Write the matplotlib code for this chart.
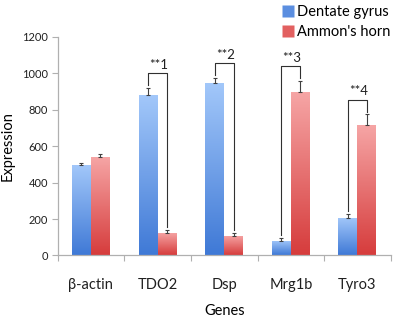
import matplotlib
matplotlib.use("Agg")
import matplotlib.pyplot as plt
import numpy as np
from matplotlib.colors import LinearSegmentedColormap
from matplotlib.lines import Line2D

plt.rcParams['font.family'] = ['Lato', 'DejaVu Sans']

genes = ["β-actin", "TDO2", "Dsp", "Mrg1b", "Tyro3"]
dentate = [495, 880, 945, 80, 205]
dentate_err = [15, 40, 30, 15, 22]
ammon = [540, 125, 105, 900, 715]
ammon_err = [20, 15, 18, 58, 60]
sig_labels = ["", "**1", "**2", "**3", "**4"]
series_names = ["Dentate gyrus", "Ammon's horn"]

fig = plt.figure(figsize=(4, 3.2), dpi=100)
ax = fig.add_axes([0.144, 0.2016, 0.833, 0.6828])

x = np.arange(len(genes))
w = 0.285

blue_cmap = LinearSegmentedColormap.from_list("b", ["#3f79d6", "#a3c8fa"])
red_cmap = LinearSegmentedColormap.from_list("r", ["#d63c3c", "#f6a6a6"])

bars_b = ax.bar(x - w/2, dentate, w, color="none", edgecolor="none")
bars_r = ax.bar(x + w/2, ammon, w, color="none", edgecolor="none")
grad = np.linspace(0, 1, 256).reshape(-1, 1)
for bars, cmap in ((bars_b, blue_cmap), (bars_r, red_cmap)):
    for b in bars:
        x0, y0 = b.get_x(), b.get_y()
        bw, bh = b.get_width(), b.get_height()
        im = ax.imshow(grad, cmap=cmap, origin="lower", aspect="auto",
                       extent=[x0, x0 + bw, y0, y0 + bh], zorder=2)
        im.set_clip_path(b)

ax.errorbar(x - w/2, dentate, yerr=[np.zeros(len(x)), dentate_err], fmt="none",
            ecolor="#404040", elinewidth=0.8, capsize=1.5, capthick=0.8, zorder=3)
ax.errorbar(x + w/2, ammon, yerr=[np.zeros(len(x)), ammon_err], fmt="none",
            ecolor="#404040", elinewidth=0.8, capsize=1.5, capthick=0.8, zorder=3)

for i, lab in enumerate(sig_labels):
    if not lab:
        continue
    tb = dentate[i] + dentate_err[i]
    tr = ammon[i] + ammon_err[i]
    top = max(tb, tr) + 80
    ax.plot([x[i] - w/2, x[i] - w/2, x[i] + w/2, x[i] + w/2],
            [tb + 15, top, top, tr + 15], color="#303030", lw=0.8, zorder=4)
    ax.text(x[i] - w/2 + 0.02, top + 15, lab, fontsize=9.5, ha="left", va="bottom",
            color="#202020")

ax.set_xlim(-0.5, len(genes) - 0.5)
ax.set_ylim(0, 1200)
ax.set_yticks(np.arange(0, 1201, 200))
ax.tick_params(axis="y", labelsize=8, length=4, color="#b0b0b0", width=0.8,
               labelcolor="#202020", pad=3)
ax.set_xticks(np.arange(-0.5, len(genes), 1.0))
ax.set_xticklabels([])
ax.set_xticks(x, minor=True)
ax.set_xticklabels(genes, minor=True, fontsize=10.5)
ax.tick_params(axis="x", which="major", length=4, color="#b0b0b0", width=0.8)
ax.tick_params(axis="x", which="minor", length=0, pad=16, labelcolor="#202020")
for s in ("top", "right"):
    ax.spines[s].set_visible(False)
for s in ("left", "bottom"):
    ax.spines[s].set_color("#b0b0b0")
    ax.spines[s].set_linewidth(0.9)

ax.set_ylabel("Expression", fontsize=10.5, labelpad=5)
ax.set_xlabel("Genes", fontsize=10.5, labelpad=9)

handles = [Line2D([], [], marker="s", ls="none", markersize=8,
                  markerfacecolor="#5b8ee0", markeredgecolor="none"),
           Line2D([], [], marker="s", ls="none", markersize=8,
                  markerfacecolor="#e26060", markeredgecolor="none")]
fig.legend(handles, series_names, loc="upper left", bbox_to_anchor=(0.67, 1.025),
           frameon=False, fontsize=10.5, handletextpad=0.1, labelspacing=0.4,
           handlelength=1.0)

fig.savefig("out.png", dpi=100)
